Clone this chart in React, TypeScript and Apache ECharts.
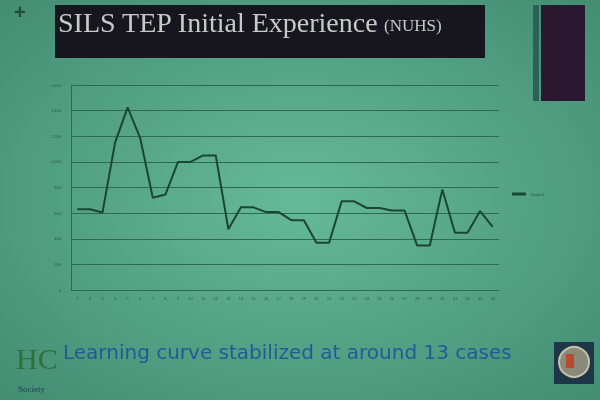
import React, { useEffect, useRef } from "react";
import * as echarts from "echarts";

const categories = Array.from({ length: 34 }, (_, i) => String(i + 1));
const durations = [
  630, 630, 605, 1150, 1425, 1185, 720, 745, 1000, 1000, 1050, 1050,
  475, 645, 645, 608, 608, 545, 545, 368, 368, 692, 692, 640, 640,
  620, 620, 347, 347, 784, 447, 447, 616, 492,
];
const seriesName = "Series1";
const yMin = 0;
const yMax = 1600;
const yStep = 200;
const titleMain = "SILS TEP Initial Experience";
const titleSub = "(NUHS)";
const caption = "Learning curve stabilized at around 13 cases";

export default function App() {
  const ref = useRef<HTMLDivElement>(null);
  useEffect(() => {
    if (!ref.current) return;
    const chart = echarts.init(ref.current, undefined, { renderer: "svg" });
    const axisColor = "#2c6a55";
    chart.setOption({
      animation: false,
      backgroundColor: {
        type: "radial",
        x: 0.5,
        y: 0.5,
        r: 0.75,
        colorStops: [
          { offset: 0, color: "#66b99b" },
          { offset: 1, color: "#418a6f" },
        ],
      },
      grid: { left: 71, right: 101, top: 85, bottom: 110 },
      legend: {
        show: true,
        left: 507,
        top: 187,
        itemWidth: 14,
        itemHeight: 3,
        itemGap: 2,
        icon: "rect",
        textStyle: { fontSize: 4, color: "#24523f", fontFamily: "Liberation Sans" },
        data: [seriesName],
      },
      xAxis: {
        type: "category",
        data: categories,
        boundaryGap: true,
        axisLine: { show: true, lineStyle: { color: axisColor, width: 1 } },
        axisTick: { show: false },
        axisLabel: {
          fontSize: 4,
          color: "#2a5a48",
          interval: 0,
          margin: 6,
          fontFamily: "Liberation Sans",
        },
        splitLine: { show: false },
      },
      yAxis: {
        type: "value",
        min: yMin,
        max: yMax,
        interval: yStep,
        axisLine: { show: true, lineStyle: { color: axisColor, width: 1 } },
        axisTick: { show: false },
        axisLabel: {
          fontSize: 4,
          color: "#2a5a48",
          margin: 10,
          fontFamily: "Liberation Sans",
          formatter: (v: number) => v.toLocaleString("en-US"),
        },
        splitLine: { show: true, lineStyle: { color: axisColor, width: 1 } },
      },
      series: [
        {
          name: seriesName,
          type: "line",
          data: durations,
          showSymbol: false,
          symbol: "none",
          lineStyle: { color: "#1b4535", width: 2 },
          itemStyle: { color: "#1b4535" },
        },
      ],
      graphic: [
        {
          type: "text",
          left: 14,
          top: 2,
          style: { text: "+", fontSize: 20, fill: "#1f4c3c", fontFamily: "Liberation Sans", fontWeight: "bold" },
        },
        {
          type: "rect",
          shape: { x: 55, y: 5, width: 430, height: 53 },
          style: { fill: "#17161f" },
        },
        {
          type: "text",
          x: 58,
          y: 8,
          style: {
            text: titleMain,
            fontSize: 28,
            fill: "#c4ccc8",
            fontFamily: "Liberation Serif",
          },
        },
        {
          type: "text",
          x: 384,
          y: 17,
          style: {
            text: titleSub,
            fontSize: 17,
            fill: "#c4ccc8",
            fontFamily: "Liberation Serif",
          },
        },
        {
          type: "rect",
          shape: { x: 533, y: 5, width: 6, height: 96 },
          style: { fill: "#2b6157" },
        },
        {
          type: "rect",
          shape: { x: 541, y: 5, width: 44, height: 96 },
          style: { fill: "#2a1830" },
        },
        {
          type: "text",
          x: 63,
          y: 342,
          style: {
            text: caption,
            fontSize: 20,
            fill: "#235a96",
            fontFamily: "DejaVu Sans",
          },
        },
        {
          type: "text",
          x: 16,
          y: 343,
          style: { text: "HC", fontSize: 30, fill: "#2f713a", fontFamily: "Liberation Serif" },
        },
        {
          type: "text",
          x: 18,
          y: 384,
          style: { text: "Society", fontSize: 9, fill: "#1d3d52", fontFamily: "Liberation Serif" },
        },
        {
          type: "rect",
          shape: { x: 554, y: 342, width: 40, height: 42 },
          style: { fill: "#1f3548" },
        },
        {
          type: "circle",
          shape: { cx: 574, cy: 362, r: 15 },
          style: { fill: "#8a8a7a", stroke: "#c8c2a8", lineWidth: 2 },
        },
        {
          type: "rect",
          shape: { x: 566, y: 354, width: 8, height: 14 },
          style: { fill: "#b84a32" },
        },
      ],
    });
    return () => chart.dispose();
  }, []);
  return (
    <div
      ref={ref}
      style={{ position: "fixed", left: 0, top: 0, width: 600, height: 400 }}
    />
  );
}
